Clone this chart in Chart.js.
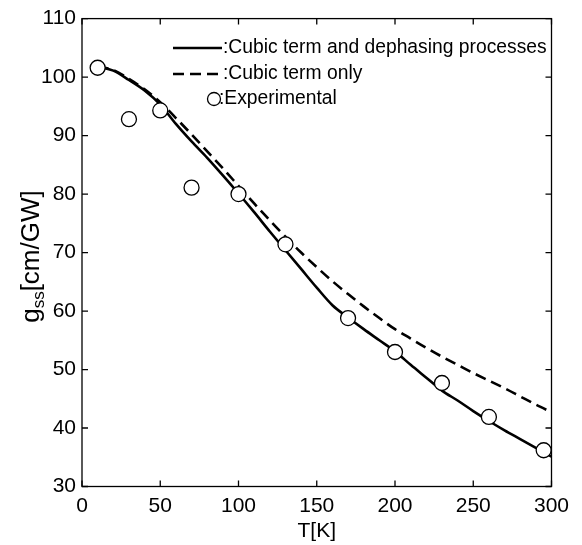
<!DOCTYPE html>
<html>
<head>
<meta charset="utf-8">
<script src="https://cdn.jsdelivr.net/npm/chart.js@4.4.1/dist/chart.umd.min.js"></script>
<style>
  html, body { margin: 0; padding: 0; background: #fff; }
  #wrap { width: 582px; height: 545px; }
</style>
</head>
<body>
<div id="wrap"><canvas id="myChart" width="582" height="545"></canvas></div>
<script>
// model curves, T in K
const tempModel = [10, 20, 30, 40, 50, 60, 70, 80, 90, 100, 110, 120, 130, 140, 150,
                   160, 170, 180, 190, 200, 210, 220, 230, 240, 250, 260, 270, 280, 290, 300]
const gCubicDephasing = [101.8, 101.1, 99.5, 97.7, 95.3, 92.0, 89.0, 86.2, 83.2, 80.1, 76.9, 73.6, 70.4, 67.2, 64.0,
                         61.0, 58.9, 56.9, 55.0, 53.1, 50.8, 48.6, 46.4, 44.7, 42.9, 41.2, 39.6, 38.1, 36.6, 35.1]
const gCubicOnly = [101.8, 101.2, 99.7, 97.9, 95.7, 93.0, 90.2, 87.3, 84.4, 81.4, 78.4, 75.5, 72.7, 70.0, 67.5,
                    65.1, 62.9, 60.8, 58.8, 56.9, 55.3, 53.7, 52.2, 50.8, 49.4, 48.1, 46.8, 45.4, 44.0, 42.7]

// measured points
const tempExp = [10, 30, 50, 70, 100, 130, 170, 200, 230, 260, 295]
const gExp = [101.6, 92.8, 94.3, 81.1, 80.0, 71.4, 58.8, 53.0, 47.7, 41.9, 36.2]

const legendLabels = [':Cubic term and dephasing processes', ':Cubic term only', ':Experimental']
const xTitle = 'T[K]'

const FONT = '"Liberation Sans", Arial, sans-serif'

function toPoints(xs, ys) {
    return xs.map((x, i) => ({x: x, y: ys[i]}))
}

// inward ticks on all 4 sides + box
const frame = {
    id: 'frame',
    afterDatasetsDraw(chart) {
        const {ctx, chartArea: a, scales} = chart
        ctx.save()
        ctx.strokeStyle = '#000'
        ctx.lineWidth = 1.3
        ctx.beginPath()
        scales.x.ticks.forEach(t => {
            const px = scales.x.getPixelForValue(t.value)
            ctx.moveTo(px, a.bottom); ctx.lineTo(px, a.bottom - 6)
            ctx.moveTo(px, a.top); ctx.lineTo(px, a.top + 6)
        })
        scales.y.ticks.forEach(t => {
            const py = scales.y.getPixelForValue(t.value)
            ctx.moveTo(a.left, py); ctx.lineTo(a.left + 6, py)
            ctx.moveTo(a.right, py); ctx.lineTo(a.right - 6, py)
        })
        ctx.stroke()
        ctx.strokeRect(a.left, a.top, a.right - a.left, a.bottom - a.top)
        ctx.restore()
    },
    afterDraw(chart) {
        const {ctx, chartArea: a} = chart
        ctx.save()
        // y title with subscript
        ctx.translate(30, (a.top + a.bottom) / 2 + 4)
        ctx.rotate(-Math.PI / 2)
        ctx.fillStyle = '#000'
        ctx.textBaseline = 'alphabetic'
        const big = '26px ' + FONT, small = '17px ' + FONT
        ctx.font = big
        const w1 = ctx.measureText('g').width
        const w3 = ctx.measureText('[cm/GW]').width
        ctx.font = small
        const w2 = ctx.measureText('ss').width
        let x = -(w1 + w2 + w3) / 2
        const base = 9
        ctx.font = big
        ctx.fillText('g', x, base); x += w1
        ctx.font = small
        ctx.fillText('ss', x, base + 5); x += w2
        ctx.font = big
        ctx.fillText('[cm/GW]', x, base)
        ctx.restore()

        // legend
        ctx.save()
        ctx.fillStyle = '#000'
        ctx.strokeStyle = '#000'
        ctx.font = '19.3px ' + FONT
        ctx.textBaseline = 'middle'
        const rows = [48, 74, 99]
        ctx.lineWidth = 2.6
        ctx.beginPath(); ctx.moveTo(173, rows[0]); ctx.lineTo(222, rows[0]); ctx.stroke()
        ctx.setLineDash([11, 6])
        ctx.beginPath(); ctx.moveTo(173, rows[1]); ctx.lineTo(222, rows[1]); ctx.stroke()
        ctx.setLineDash([])
        ctx.lineWidth = 1.3
        ctx.fillStyle = '#fff'
        ctx.beginPath(); ctx.arc(214, rows[2], 6.5, 0, Math.PI * 2); ctx.fill(); ctx.stroke()
        ctx.fillStyle = '#000'
        ctx.fillText(legendLabels[0], 223, rows[0])
        ctx.fillText(legendLabels[1], 223, rows[1])
        ctx.fillText(legendLabels[2], 219, rows[2])
        ctx.restore()
    }
}

var ctx = document.getElementById('myChart').getContext('2d')

var chart = new Chart(ctx, {
    type: 'line',
    data: {
        datasets: [{
            type: 'scatter',
            label: legendLabels[2],
            data: toPoints(tempExp, gExp),
            pointRadius: 7.5,
            pointBackgroundColor: '#fff',
            pointBorderColor: '#000',
            pointBorderWidth: 1.3,
            showLine: false,
            order: 0
        }, {
            label: legendLabels[0],
            data: toPoints(tempModel, gCubicDephasing),
            borderColor: '#000',
            borderWidth: 2.6,
            pointRadius: 0,
            fill: false,
            cubicInterpolationMode: 'monotone',
            order: 1
        }, {
            label: legendLabels[1],
            data: toPoints(tempModel, gCubicOnly),
            borderColor: '#000',
            borderWidth: 2.6,
            borderDash: [11, 6],
            pointRadius: 0,
            fill: false,
            cubicInterpolationMode: 'monotone',
            order: 2
        }]
    },
    options: {
        responsive: false,
        animation: false,
        layout: { padding: { top: 15.5, right: 30.5, left: 0, bottom: 0 } },
        plugins: {
            legend: { display: false },
            tooltip: { enabled: false }
        },
        scales: {
            x: {
                type: 'linear',
                min: 0, max: 300,
                grid: { display: false, drawTicks: false },
                border: { display: false },
                ticks: { stepSize: 50, color: '#000', padding: 7, font: { family: FONT, size: 21 } },
                title: { display: true, text: xTitle, color: '#000', padding: { top: 0, bottom: 1 }, font: { family: FONT, size: 21 } },
                afterFit(scale) { scale.height = 58.5 }
            },
            y: {
                type: 'linear',
                min: 30, max: 110,
                grid: { display: false, drawTicks: false },
                border: { display: false },
                ticks: { stepSize: 10, color: '#000', padding: 6, font: { family: FONT, size: 21 } },
                afterFit(scale) { scale.width = 82 }
            }
        }
    },
    plugins: [frame]
})
</script>
</body>
</html>
